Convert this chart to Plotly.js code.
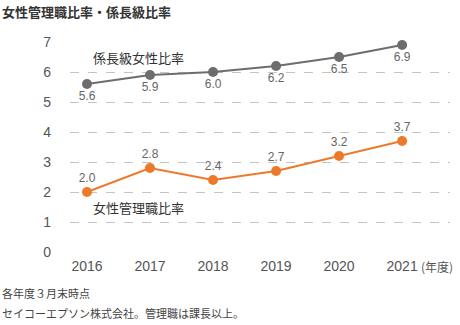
<!DOCTYPE html>
<html><head><meta charset="utf-8">
<script src="https://cdn.plot.ly/plotly-3.0.1.min.js"></script>
<style>html,body{margin:0;padding:0;background:#fff}#c{width:460px;height:325px}</style>
</head><body><div id="c"></div>
<script>
const years = ['2016','2017','2018','2019','2020','2021'];
const kakarichoRatio = [5.6, 5.9, 6.0, 6.2, 6.5, 6.9];
const managerRatio = [2.0, 2.8, 2.4, 2.7, 3.2, 3.7];
const yTicks = [0,1,2,3,4,5,6,7];

const numFont = 'Liberation Sans, Arial, sans-serif';
const jpFont = 'Noto Sans CJK JP, sans-serif';
const xi = years.map((_, i) => i);

const traces = [
  {x: xi, y: kakarichoRatio, mode: 'lines+markers+text', type: 'scatter',
   line: {color: '#6d6d6d', width: 2}, marker: {color: '#6d6d6d', size: 10},
   text: kakarichoRatio.map(v => v.toFixed(1)), textposition: 'bottom center',
   textfont: {family: numFont, size: 12, color: '#666'}, cliponaxis: false, hoverinfo: 'none'},
  {x: xi, y: managerRatio, mode: 'lines+markers+text', type: 'scatter',
   line: {color: '#ec7a2a', width: 2}, marker: {color: '#ec7a2a', size: 10},
   text: managerRatio.map(v => v.toFixed(1)), textposition: 'top center',
   textfont: {family: numFont, size: 12, color: '#666'}, cliponaxis: false, hoverinfo: 'none'}
];

const layout = {
  width: 460, height: 325,
  margin: {l: 70, r: 10, t: 42, b: 73},
  paper_bgcolor: '#fff', plot_bgcolor: '#fff',
  showlegend: false,
  font: {family: jpFont, color: '#333'},
  xaxis: {range: [-0.27, 5.76], tickvals: xi, ticktext: years, showgrid: false, zeroline: false,
          showline: false, ticks: '', ticklabelstandoff: 4,
          tickfont: {family: numFont, size: 14, color: '#555'}, fixedrange: true},
  yaxis: {range: [0, 7], tickvals: yTicks, showgrid: true, gridcolor: '#c4c4c4', griddash: 'dash', gridwidth: 1,
          zeroline: false, showline: false, ticks: '', ticklabelstandoff: 18,
          tickfont: {family: numFont, size: 14, color: '#555'}, fixedrange: true},
  annotations: [
    {xref: 'paper', yref: 'paper', x: 0, y: 1, xanchor: 'left', yanchor: 'top',
     text: '<b>女性管理職比率・係長級比率</b>', showarrow: false, font: {family: jpFont, size: 13, color: '#333'},
     xshift: -70, yshift: 42},
    {xref: 'x', yref: 'y', x: 0.07, y: 6.5, xanchor: 'left', yanchor: 'middle', text: '係長級女性比率',
     showarrow: false, font: {family: jpFont, size: 13, color: '#333'}},
    {xref: 'x', yref: 'y', x: 0.07, y: 1.5, xanchor: 'left', yanchor: 'middle', text: '女性管理職比率',
     showarrow: false, font: {family: jpFont, size: 13, color: '#333'}},
    {xref: 'x', yref: 'paper', x: 5.27, y: 0, xanchor: 'left', yanchor: 'middle', text: '(年度)',
     showarrow: false, font: {family: jpFont, size: 12, color: '#555'}, yshift: -14},
    {xref: 'paper', yref: 'paper', x: 0, y: 0, xanchor: 'left', yanchor: 'middle', text: '各年度３月末時点',
     showarrow: false, font: {family: jpFont, size: 11, color: '#444'}, xshift: -70, yshift: -41},
    {xref: 'paper', yref: 'paper', x: 0, y: 0, xanchor: 'left', yanchor: 'middle', text: 'セイコーエプソン株式会社。管理職は課長以上。',
     showarrow: false, font: {family: jpFont, size: 11, color: '#444'}, xshift: -70, yshift: -61}
  ]
};
Plotly.newPlot('c', traces, layout, {displayModeBar: false, staticPlot: true});
</script></body></html>
